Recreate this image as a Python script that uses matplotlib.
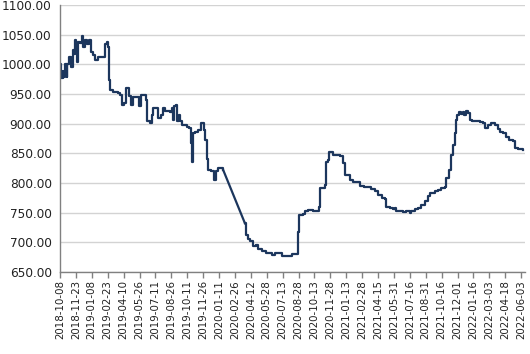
import numpy as np
import pandas as pd
import matplotlib
matplotlib.use("Agg")
from matplotlib import pyplot as plt
import matplotlib.dates as mdates

# day offset from the first date, and the value
start = "2018-10-08"
days = [0, 2, 8, 10, 14, 19, 21, 27, 31, 37, 40, 43, 46, 48, 51, 58, 63, 67, 72, 77,
        84, 89, 95, 101, 110, 125, 130, 135, 139, 142, 145, 153, 168, 173, 180, 185, 191, 197, 200, 205,
        211, 225, 229, 233, 246, 249, 251, 260, 265, 270, 281, 284, 292, 299, 303, 318, 323, 327, 329, 335,
        339, 344, 347, 352, 361, 367, 374, 378, 381, 385, 390, 399, 407, 410, 416, 419, 424, 429, 438, 445,
        450, 451, 457, 465, 472,
        535, 538, 544, 551, 557, 568, 573, 583, 597, 612, 621, 636, 641, 665, 670, 686, 689, 692, 702, 708,
        718, 731, 744, 749, 753, 766, 769, 775, 778, 789, 809, 819, 824, 838, 847, 857, 867, 879, 891, 901,
        910, 920, 930, 939, 944, 954, 963, 968, 973, 983, 992, 1002, 1012, 1016, 1026, 1035, 1045, 1055, 1064, 1069,
        1084, 1093, 1103, 1113, 1117, 1125, 1132, 1137, 1142, 1144, 1148, 1154, 1159, 1165, 1170, 1175, 1180, 1185, 1193, 1202,
        1214, 1223, 1228, 1237, 1248, 1257, 1267, 1272, 1281, 1289, 1300, 1310, 1315, 1324, 1334, 1339]
values = [1000, 977, 988, 979, 1000, 979, 1000, 1013, 996, 1024, 1018, 1041, 1035, 1004, 1038, 1036, 1047, 1030, 1041, 1035,
          1041, 1021, 1015, 1007, 1012, 1013, 1035, 1038, 1030, 974, 957, 953, 951, 948, 932, 934, 960, 960, 946, 932,
          945, 945, 929, 948, 949, 940, 904, 901, 915, 926, 926, 910, 915, 926, 922, 920, 926, 906, 930, 932,
          904, 914, 905, 898, 898, 895, 892, 867, 836, 884, 886, 890, 901, 901, 890, 873, 840, 822, 820, 805,
          808, 820, 825, 825, 822,
          732, 713, 706, 702, 693, 696, 689, 686, 682, 679, 682, 682, 677, 677, 680, 680, 718, 746, 748, 752,
          755, 752, 752, 760, 791, 797, 836, 839, 853, 848, 845, 833, 814, 805, 801, 801, 795, 794, 793, 790,
          786, 780, 775, 773, 760, 758, 756, 758, 752, 752, 751, 752, 750, 752, 756, 758, 763, 769, 778, 783,
          786, 789, 791, 793, 808, 822, 847, 864, 884, 906, 915, 920, 916, 920, 915, 922, 918, 907, 904, 905,
          903, 901, 892, 897, 901, 897, 891, 886, 884, 877, 872, 870, 859, 858, 858, 855]
gap_after = 472  # no data between this day and the next one

dates = pd.to_datetime(start) + pd.to_timedelta(days, unit="D")
tick_dates = pd.date_range(start, "2022-06-03", freq="46D")
s = pd.Series(values, index=dates)
cut = pd.to_datetime(start) + pd.Timedelta(days=gap_after)
before = s[s.index <= cut]
after = s[s.index > cut]

fig = plt.figure(figsize=(5.3, 3.54), dpi=100)
ax = fig.add_axes([60 / 530, 1 - 272 / 354, 465 / 530, 267 / 354])

line_kw = dict(color="#1c365d", linewidth=1.6)
ax.plot(before.index, before.values, drawstyle="steps-post", **line_kw)
ax.plot([before.index[-1], after.index[0]], [before.values[-1], after.values[0]], **line_kw)
ax.plot(after.index, after.values, drawstyle="steps-post", **line_kw)

ax.set_ylim(650, 1100)
ax.set_yticks(np.arange(650, 1101, 50))
ax.yaxis.set_major_formatter(matplotlib.ticker.FormatStrFormatter("%.2f"))
ax.set_xlim(dates[0], dates[0] + pd.Timedelta(days=1345))
ax.set_xticks(tick_dates)
ax.xaxis.set_major_formatter(mdates.DateFormatter("%Y-%m-%d"))

ax.grid(axis="y", color="#d3d3d3", linewidth=1)
ax.set_axisbelow(True)
for side in ["top", "right"]:
    ax.spines[side].set_visible(False)
for side in ["left", "bottom"]:
    ax.spines[side].set_color("#808080")
    ax.spines[side].set_linewidth(1)

ax.tick_params(axis="y", length=0, pad=6, labelsize=8.7, labelcolor="#222222")
ax.tick_params(axis="x", length=4, width=1, color="#808080", pad=2, labelsize=7.4,
               labelrotation=90, labelcolor="#222222")

fig.savefig("out.png", dpi=100)
